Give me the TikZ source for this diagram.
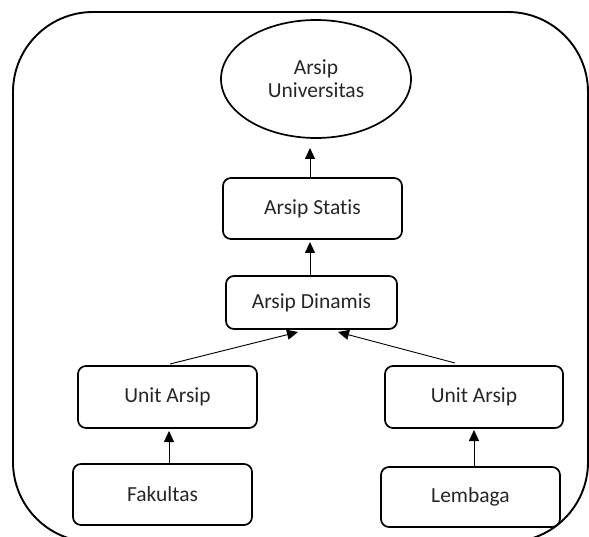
\documentclass[tikz,border=0pt]{standalone}
\usepackage{fontspec}
\setmainfont[Ligatures={NoCommon}]{Carlito}
\usetikzlibrary{shapes.geometric,arrows.meta}
\begin{document}
\begin{tikzpicture}[x=1pt,y=-1pt,
  box/.style={draw,line width=1.7pt,rounded corners=8pt,inner sep=0pt},
  conn/.style={line width=0.9pt,-{Triangle[length=11pt,width=10pt]}},
  every node/.style={font=\fontsize{21.5}{23}\selectfont,text=black!85}]
\useasboundingbox (0,0) rectangle (589,537);
\begin{scope}
\clip (0,0) rectangle (589,537);
\draw[line width=1.9pt,rounded corners=80pt] (13,12) rectangle (588,542);
\end{scope}
\node[draw,ellipse,line width=1.7pt,minimum width=190pt,minimum height=118pt,align=center,inner sep=0pt] (univ) at (316,79) {Arsip\\Universitas};
\node[box,minimum width=179pt,minimum height=61pt] (statis) at (312.5,208.5) {Arsip Statis};
\node[box,minimum width=171pt,minimum height=53pt] (dinamis) at (311.5,302.5) {Arsip Dinamis};
\node[box,minimum width=179pt,minimum height=62pt] (unitl) at (167.5,397) {Unit Arsip};
\node[box,minimum width=178pt,minimum height=62pt] (unitr) at (474,397) {Unit Arsip};
\node[box,minimum width=179pt,minimum height=61pt] (fak) at (162.5,494.5) {Fakultas};
\node[box,minimum width=179pt,minimum height=60pt] (lem) at (470.5,497) {Lembaga};
\coordinate (tu) at (310,148);
\coordinate (ts) at (310,242);
\coordinate (ul) at (170,364);
\coordinate (ur) at (455,363);
\coordinate (dl) at (298,332);
\coordinate (dr) at (338,332);
\coordinate (tl) at (169,431);
\coordinate (tr) at (474,430);
\draw[conn] (statis.north -| tu) -- (tu);
\draw[conn] (dinamis.north -| ts) -- (ts);
\draw[conn] (ul) -- (dl);
\draw[conn] (ur) -- (dr);
\draw[conn] (fak.north -| tl) -- (tl);
\draw[conn] (lem.north -| tr) -- (tr);
\end{tikzpicture}
\end{document}
